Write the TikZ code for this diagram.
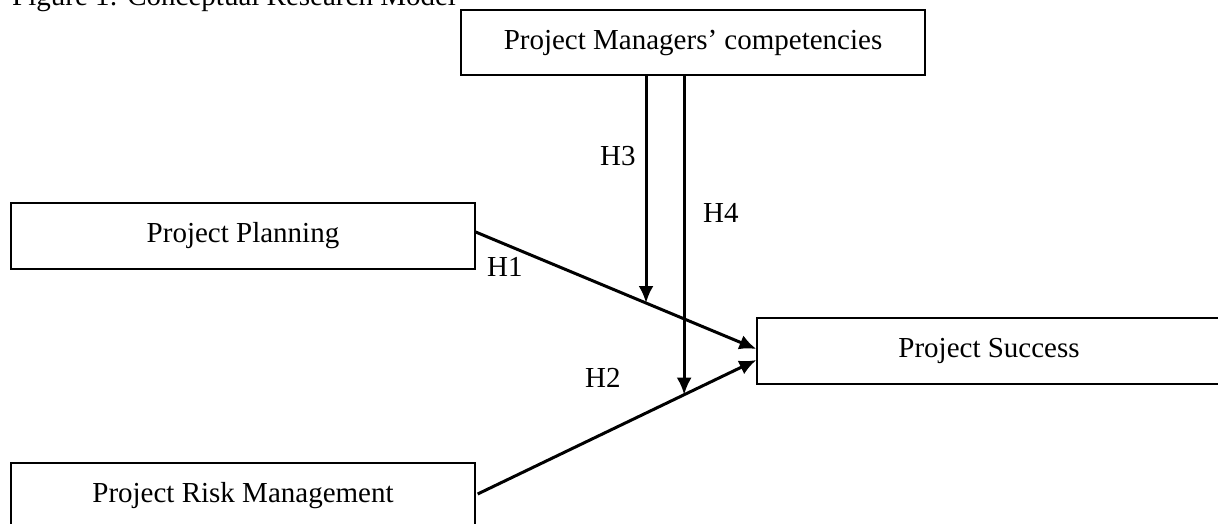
\documentclass[tikz,border=0pt]{standalone}
\usepackage{fontspec}
\setmainfont{Liberation Serif}
\usetikzlibrary{arrows.meta,calc}

\begin{document}
\begin{tikzpicture}[x=1pt,y=-1pt,>={Latex[length=17pt,width=15pt]}]
    \tikzstyle{b}=[rectangle, draw=black, line width=1.3pt, minimum width=464pt, minimum height=66pt, inner sep=0pt, font=\fontsize{29}{34}\selectfont]
    \tikzstyle{h}=[inner sep=0pt, anchor=base west, font=\fontsize{29}{34}\selectfont]
    \tikzstyle{a}=[->, line width=3pt]
    \useasboundingbox (0,0) rectangle (1218,524);
    \clip (0,0) rectangle (1218,524);
    \node[h] (title) at (12,6) {Figure 1: Conceptual Research Model};
    \node[b, minimum height=65pt] (mgr) at (693,42.5) {Project Managers’ competencies};
    \node[b] (plan) at (243,236) {Project Planning};
    \node[b] (risk) at (243,496) {Project Risk Management};
    \node[b] (succ) at (989,351) {Project Success};
    \draw[a] ([yshift=4pt]plan.east) -- coordinate[pos=0.607] (m3) ([yshift=2pt]succ.west);
    \draw[a] ([xshift=2pt,yshift=2pt]risk.east) -- coordinate[pos=0.741] (m4) ([yshift=-9pt]succ.west);
    \draw[a] (mgr.south -| m3) -- (m3);
    \draw[a] (mgr.south -| m4) -- (m4);
    \node[h] (H1) at (487,276) {H1};
    \node[h] (H2) at (585,387) {H2};
    \node[h] (H3) at (600,165) {H3};
    \node[h] (H4) at (703,222) {H4};
\end{tikzpicture}
\end{document}
